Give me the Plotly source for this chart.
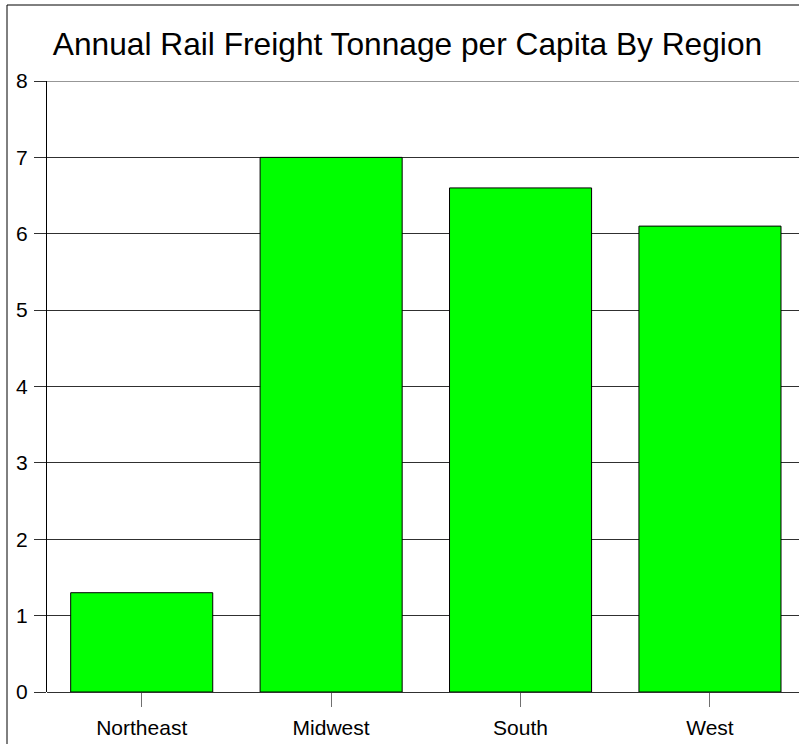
import plotly.graph_objects as go

regions = ["Northeast", "Midwest", "South", "West"]
tonnage_per_capita = [1.3, 7.0, 6.6, 6.1]
y_ticks = [0, 1, 2, 3, 4, 5, 6, 7, 8]

W, H = 799, 744
ml, mr, mt, mb = 47, 0, 81, 52
pw, ph = W - ml - mr, H - mt - mb
grid_col = "#303030"

fig = go.Figure(go.Bar(
    x=regions,
    y=tonnage_per_capita,
    width=0.75,
    marker=dict(color="#00FF00", line=dict(color="black", width=1)),
))

fig.update_layout(
    width=W, height=H,
    margin=dict(l=ml, r=mr, t=mt, b=mb),
    paper_bgcolor="white", plot_bgcolor="white",
    font=dict(family="Liberation Sans, Arial, sans-serif", color="black"),
    title=dict(text="Annual Rail Freight Tonnage per Capita By Region",
               font=dict(size=31.7, color="black"),
               x=(53 + 762) / 2 / W, xanchor="center",
               y=1 - 44 / H, yanchor="middle"),
    showlegend=False,
    bargap=0.25,
)

fig.update_yaxes(
    range=[y_ticks[0], y_ticks[-1]], tickvals=y_ticks, showgrid=True,
    gridcolor=grid_col, gridwidth=1,
    zeroline=True, zerolinecolor=grid_col, zerolinewidth=1,
    ticks="outside", ticklen=12, tickcolor=grid_col, tickwidth=1,
    showline=True, linecolor="black", linewidth=1,
    tickfont=dict(size=21, color="black"), ticklabelstandoff=2,
)
fig.update_xaxes(
    range=[-0.5, 3.47], type="category",
    ticks="outside", ticklen=14, tickcolor="#707070", tickwidth=1,
    showline=False, showgrid=False,
    tickfont=dict(size=21, color="black"), ticklabelstandoff=3,
)

# top gridline (suppressed by plotly at the range edge)
fig.add_shape(type="line", xref="paper", yref="y", x0=0, x1=1,
              y0=y_ticks[-1], y1=y_ticks[-1],
              line=dict(color=grid_col, width=1), layer="below")

# outer frame (left and top visible)
fig.add_shape(type="rect", xref="paper", yref="paper",
              x0=(7 - ml) / pw, x1=1.05, y0=-0.2, y1=1 + (mt - 5) / ph,
              line=dict(color="black", width=1), fillcolor="rgba(0,0,0,0)",
              layer="above")

fig.write_html("out.html", config={"displayModeBar": False},
               post_script="document.body.style.margin='0px';document.body.style.overflow='hidden';")
